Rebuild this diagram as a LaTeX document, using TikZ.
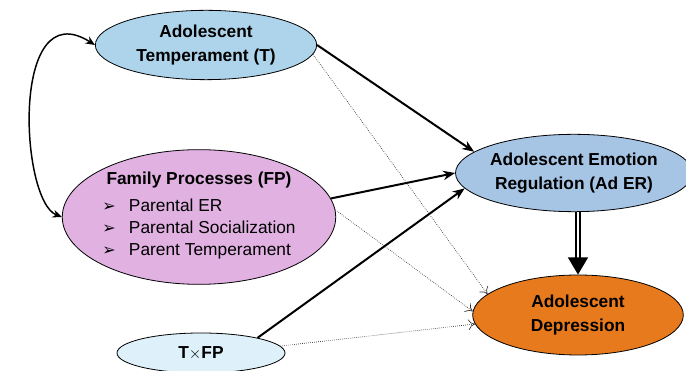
\documentclass[tikz,border=0pt]{standalone}
\usepackage{fontspec}
\setmainfont{Liberation Sans}
\newfontfamily\symfont{DejaVu Sans}
\usetikzlibrary{shapes.geometric,arrows.meta}
\definecolor{tempblue}{RGB}{174,212,236}
\definecolor{famlilac}{RGB}{225,177,226}
\definecolor{erblue}{RGB}{166,196,228}
\definecolor{deporange}{RGB}{232,122,30}
\definecolor{txfpblue}{RGB}{222,241,250}
\newcommand{\fpitem}[1]{\mdseries\makebox[20pt][l]{\symfont\fontsize{12}{12}\selectfont ➢}#1}

\begin{document}
\begin{tikzpicture}[x=0.75pt,y=0.75pt,
    var/.style={ellipse, draw, line width=0.6pt, inner sep=0pt, align=center,
      font=\fontsize{13}{17.5}\selectfont\bfseries},
    effect/.style={line width=1.5pt, -{Stealth[length=9pt,width=7pt]}},
    weak/.style={densely dotted, line width=0.5pt, draw=black!80, -{To[length=5pt,width=8pt]}}]
   \useasboundingbox (0,0) rectangle (686,371);
   \node[var, fill=tempblue, minimum width=166pt, minimum height=52pt] (temp) at (206,326)
     {Adolescent\\Temperament (T)};
   \node[var, fill=famlilac, minimum width=201pt, minimum height=101pt] (fam) at (199,154)
     {Family Processes (FP)\\[4pt]
      \begin{tabular}{@{}l@{}}
        \fpitem{Parental ER}\\[-1pt]
        \fpitem{Parental Socialization}\\[-1pt]
        \fpitem{Parent Temperament}
      \end{tabular}};
   \node[var, fill=erblue, minimum width=171pt, minimum height=58pt] (adER) at (574,198)
     {Adolescent Emotion\\Regulation (Ad ER)};
   \node[var, fill=deporange, minimum width=158pt, minimum height=60pt] (dep) at (578,56)
     {Adolescent\\Depression};
   \node[var, fill=txfpblue, minimum width=126pt, minimum height=30pt] (txfp) at (201,18)
     {T$\times$FP};
   % correlation between temperament and family processes
   \draw[line width=1.1pt, {Stealth[length=7pt,width=6pt]}-{Stealth[length=7pt,width=6pt]}]
     (temp.west) .. controls (10,380) and (20,170) .. (fam.west);
   % paths to emotion regulation
   \draw[effect] (temp.east) -- (adER.168);
   \draw[effect] (fam.8) -- (adER.west);
   \draw[effect] (txfp.15) -- (adER.188);
   % direct paths to depression
   \draw[weak] (temp.355) -- (dep.167);
   \draw[weak] (fam.3) -- (dep.178);
   \draw[weak] (txfp.5) -- (dep.185);
   \draw[line width=1.5pt, double distance=1.8pt, -{Triangle[length=13pt,width=15pt]}]
     (adER.south -| dep.north) -- (dep.north);
\end{tikzpicture}
\end{document}
